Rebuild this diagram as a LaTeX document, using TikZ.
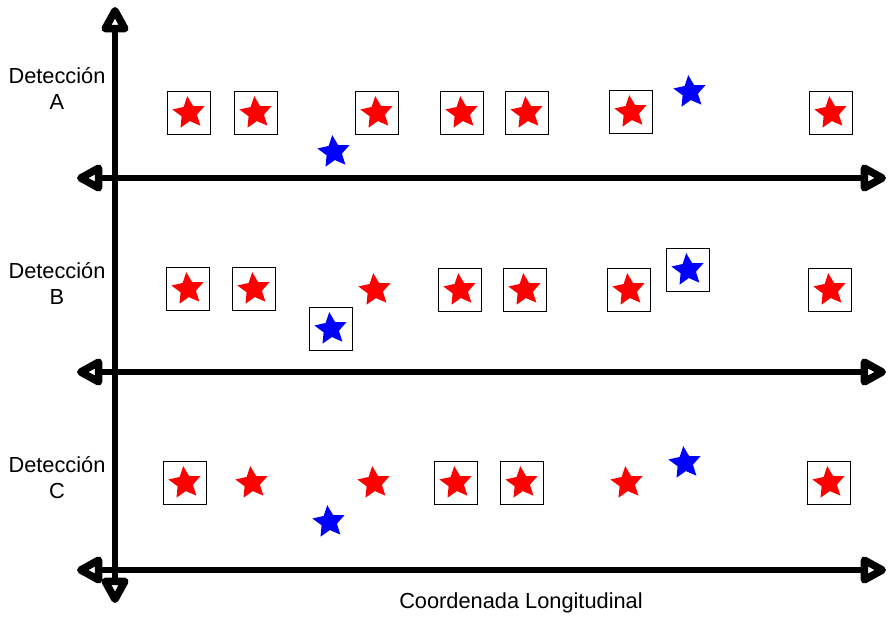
\documentclass[tikz,border=0pt]{standalone}
\usepackage{fontspec}
\setmainfont{Liberation Sans}
\usetikzlibrary{arrows.meta,shapes.geometric}
\definecolor{starred}{HTML}{FF0000}
\definecolor{starblue}{HTML}{0000FF}
\tikzset{
  tipend/.tip={Triangle[fill=white,length=6mm,width=6mm,line width=4.8pt,round]},
  axis/.style={line width=3.1pt,draw=black,tipend-tipend},
  frame/.style={draw=black,line width=0.9pt,minimum size=0.86cm,inner sep=0pt},
  rstar/.style={star,star points=5,star point ratio=2.1,fill=starred,
    minimum size=0.68cm,inner sep=0pt,rotate=6},
  bstar/.style={star,star points=5,star point ratio=2.1,fill=starblue,
    minimum size=0.68cm,inner sep=0pt,rotate=6},
  lbl/.style={font=\fontsize{12.4}{14.8}\selectfont,align=center}
}
\begin{document}
\begin{tikzpicture}[x=0.02cm,y=-0.02cm]
  \useasboundingbox (0,0) rectangle (890,616);
  % axes
  \coordinate (vt) at (115,7);
  \coordinate (vb) at (115,603);
  \draw[axis] (vb) -- (vt);
  \foreach \r/\y in {A/178,B/372,C/570}{
    \coordinate (l\r) at (77,\y);
    \coordinate (r\r) at (886,\y);
    \draw[axis] (l\r) -- (r\r);
  }
  % labels
  \node[lbl] (labA) at (57,88) {Detección\\A};
  \node[lbl] (labB) at (57,283) {Detección\\B};
  \node[lbl] (labC) at (57,478) {Detección\\C};
  \node[lbl] (xlab) at (521,603) {Coordenada Longitudinal};
  % row A
  \foreach \i/\x/\y in {1/189/113,2/256/113,3/377/113,4/462/113,5/527/113,6/631/112,7/831/113}{
    \node[frame] (fA\i) at (\x,\y) {};
    \node[rstar] (sA\i) at (fA\i) {};
  }
  \node[bstar] (bA1) at (334,152) {};
  \node[bstar] (bA2) at (690,92) {};
  % row B
  \foreach \i/\x/\y in {1/188/289,2/254/289,3/460/290,4/525/290,5/629/290,6/830/290}{
    \node[frame] (fB\i) at (\x,\y) {};
    \node[rstar] (sB\i) at (fB\i) {};
  }
  \node[rstar] (rB1) at (375,290) {};
  \node[frame] (gB1) at (331,329) {};
  \node[bstar] (bB1) at (gB1) {};
  \node[frame] (gB2) at (688,270) {};
  \node[bstar] (bB2) at (gB2) {};
  % row C
  \foreach \i/\x/\y in {1/185/483,2/456/483,3/522/483,4/829/483}{
    \node[frame] (fC\i) at (\x,\y) {};
    \node[rstar] (sC\i) at (fC\i) {};
  }
  \foreach \i/\x/\y in {1/252/483,2/374/483,3/627/483}{
    \node[rstar] (rC\i) at (\x,\y) {};
  }
  \node[bstar] (bC1) at (329,522) {};
  \node[bstar] (bC2) at (685,463) {};
\end{tikzpicture}
\end{document}
